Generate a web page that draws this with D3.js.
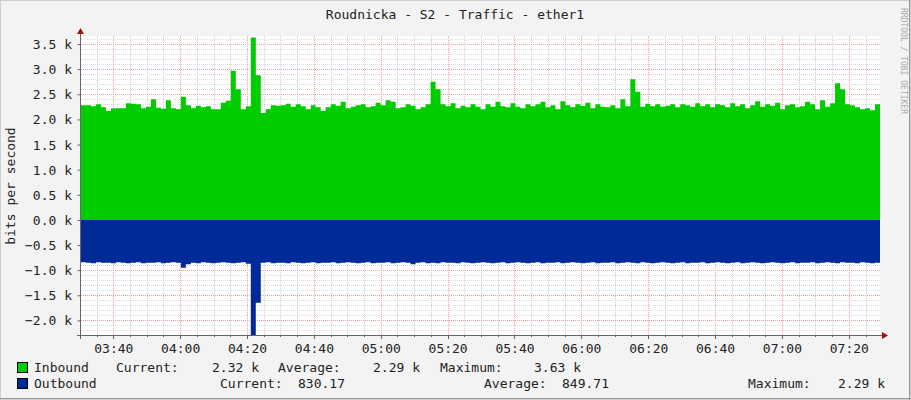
<!DOCTYPE html>
<html><head><meta charset="utf-8">
<script src="https://cdn.jsdelivr.net/npm/d3@7"></script>
<style>body{margin:0;background:#f3f3f3}svg{display:block}text{font-family:"DejaVu Sans Mono",monospace}</style>
</head><body><svg id="c" width="911" height="400"></svg>
<script>
const title = "Roudnicka - S2 - Traffic - ether1";
const startTime = "03:30:20", endTime = "07:29:20";
const yTicks = [-2.0,-1.5,-1.0,-0.5,0.0,0.5,1.0,1.5,2.0,2.5,3.0,3.5];
const inbound = [2.28,2.28,2.26,2.30,2.24,2.17,2.22,2.22,2.22,2.32,
2.31,2.30,2.22,2.25,2.40,2.23,2.21,2.38,2.22,2.20,
2.45,2.28,2.22,2.27,2.24,2.26,2.20,2.20,2.33,2.37,
2.97,2.60,2.20,2.26,3.63,2.88,2.13,2.20,2.28,2.27,
2.28,2.31,2.25,2.30,2.26,2.20,2.28,2.24,2.17,2.24,
2.30,2.27,2.35,2.22,2.25,2.28,2.30,2.24,2.26,2.33,
2.28,2.38,2.35,2.22,2.24,2.30,2.27,2.20,2.24,2.30,
2.75,2.60,2.30,2.26,2.32,2.22,2.27,2.24,2.30,2.25,
2.20,2.30,2.25,2.35,2.26,2.24,2.32,2.25,2.22,2.30,
2.26,2.30,2.35,2.24,2.28,2.20,2.36,2.28,2.24,2.30,
2.27,2.33,2.22,2.30,2.25,2.24,2.28,2.22,2.40,2.26,
2.80,2.55,2.25,2.31,2.26,2.30,2.25,2.27,2.30,2.24,
2.30,2.28,2.25,2.32,2.26,2.30,2.24,2.30,2.28,2.24,
2.32,2.26,2.30,2.22,2.28,2.36,2.25,2.30,2.27,2.33,
2.20,2.28,2.30,2.24,2.26,2.35,2.30,2.20,2.38,2.25,
2.32,2.72,2.60,2.30,2.28,2.24,2.20,2.22,2.18,2.30];
const outbound = [0.84,0.85,0.86,0.84,0.85,0.85,0.86,0.84,0.85,0.86,
0.85,0.84,0.86,0.85,0.85,0.84,0.86,0.85,0.84,0.85,
0.95,0.88,0.85,0.86,0.84,0.85,0.86,0.85,0.84,0.85,
0.86,0.85,0.84,0.87,2.29,1.65,0.85,0.84,0.86,0.85,
0.85,0.86,0.84,0.85,0.86,0.85,0.84,0.86,0.85,0.85,
0.84,0.86,0.85,0.84,0.85,0.86,0.85,0.84,0.86,0.85,
0.85,0.84,0.86,0.85,0.84,0.85,0.88,0.85,0.84,0.86,
0.85,0.86,0.84,0.85,0.85,0.86,0.84,0.85,0.86,0.85,
0.84,0.85,0.86,0.85,0.84,0.86,0.85,0.84,0.85,0.86,
0.85,0.84,0.86,0.85,0.85,0.84,0.86,0.85,0.84,0.85,
0.86,0.85,0.84,0.86,0.85,0.85,0.84,0.86,0.85,0.84,
0.85,0.86,0.84,0.85,0.86,0.85,0.84,0.85,0.86,0.85,
0.84,0.86,0.85,0.85,0.84,0.86,0.85,0.84,0.85,0.86,
0.85,0.84,0.86,0.85,0.84,0.85,0.86,0.85,0.84,0.85,
0.86,0.85,0.84,0.86,0.85,0.85,0.84,0.86,0.85,0.84,
0.85,0.86,0.84,0.85,0.85,0.86,0.84,0.85,0.86,0.85];
const legendRows = [
 {name:"Inbound", color:"#00cc00", parts:[["Current:",116],["2.32 k",212],["Average:",278],["2.29 k",373],["Maximum:",440],["3.63 k",534]]},
 {name:"Outbound", color:"#002a97", parts:[["Current:",220],["830.17",298],["Average:",484],["849.71",562],["Maximum:",748],["2.29 k",838]]}
];

const svg = d3.select("#c");
const L=81,R=880,T=36,B=335;
const pt = d3.timeParse("%H:%M:%S");
const t0=pt(startTime), t1=pt(endTime);
const x = d3.scaleTime().domain([t0,t1]).range([L,R]);
const y = d3.scaleLinear().domain([-2.29,3.66]).range([B,T]);
// frame
svg.append("rect").attr("x",0.5).attr("y",0.5).attr("width",910).attr("height",399).attr("fill","#f3f3f3").attr("stroke","#cfcfcf");
svg.append("line").attr("x1",0).attr("x2",911).attr("y1",398.5).attr("y2",398.5).attr("stroke","#999");
svg.append("line").attr("x1",909.5).attr("x2",909.5).attr("y1",0).attr("y2",400).attr("stroke","#999");
svg.append("rect").attr("x",L).attr("y",T).attr("width",R-L).attr("height",B-T).attr("fill","#fff");
const g = svg.append("g");
// minor grid
const minorT = d3.timeMinute.every(5).range(t0,t1);
const majorT = d3.timeMinute.every(20).range(t0,t1);
g.selectAll(".vm").data(minorT).join("line").attr("x1",d=>Math.round(x(d))+.5).attr("x2",d=>Math.round(x(d))+.5).attr("y1",T).attr("y2",B).attr("stroke","#ccc").attr("stroke-dasharray","1,1");
const minorY = d3.range(-22,37).map(v=>v/10);
g.selectAll(".hm").data(minorY).join("line").attr("x1",L).attr("x2",R).attr("y1",d=>Math.round(y(d))+.5).attr("y2",d=>Math.round(y(d))+.5).attr("stroke","#ddd").attr("stroke-dasharray","1,1");
g.selectAll(".vM").data(majorT).join("line").attr("x1",d=>Math.round(x(d))+.5).attr("x2",d=>Math.round(x(d))+.5).attr("y1",T).attr("y2",B).attr("stroke","#f0a0a0").attr("stroke-dasharray","1,1");
g.selectAll(".hM").data(yTicks).join("line").attr("x1",L).attr("x2",R).attr("y1",d=>Math.round(y(d))+.5).attr("y2",d=>Math.round(y(d))+.5).attr("stroke","#f0a0a0").attr("stroke-dasharray","1,1");
// areas
const step=(t1-t0)/inbound.length;
const tx=i=>new Date(+t0+i*step);
const pad=a=>a.concat([a[a.length-1]]);
const area = sign=>d3.area().curve(d3.curveStepAfter).x((d,i)=>x(tx(i))).y0(y(0)).y1(d=>y(sign*d));
svg.append("path").attr("d",area(1)(pad(inbound))).attr("fill","#00cc00");
svg.append("path").attr("d",area(-1)(pad(outbound))).attr("fill","#002a97");
// axes lines
svg.append("line").attr("x1",L-0.5).attr("x2",L-0.5).attr("y1",T-4).attr("y2",B+4).attr("stroke","#666");
svg.append("line").attr("x1",L-4).attr("x2",R+4).attr("y1",B+.5).attr("y2",B+.5).attr("stroke","#666");
svg.append("path").attr("d",`M${L-4},${T-2}L${L+3},${T-2}L${L-0.5},${T-8}Z`).attr("fill","#a01010");
svg.append("path").attr("d",`M${R+2},${B-3}L${R+2},${B+4}L${R+8},${B+.5}Z`).attr("fill","#a01010");
// y axis ticks labels
const ya=svg.append("g").attr("transform",`translate(${L},0)`).call(d3.axisLeft(y).tickValues(yTicks).tickSize(3).tickFormat(d=>d3.format(".1f")(d)+" k"));
ya.select(".domain").remove();
ya.selectAll("line").attr("stroke","#666").attr("transform","translate(-0.5,0)");
ya.selectAll("text").attr("font-size",13).attr("fill","#222").attr("font-family","DejaVu Sans Mono").attr("dx",-3).attr("dy","0.35em");
const xa=svg.append("g").attr("transform",`translate(0,${B})`).call(d3.axisBottom(x).tickValues(majorT.filter(d=>d.getMinutes()%20==0 && +d>+t0+60000)).tickSize(0).tickFormat(d3.timeFormat("%H:%M")));
xa.select(".domain").remove();
xa.selectAll("text").attr("font-size",13).attr("fill","#222").attr("font-family","DejaVu Sans Mono").attr("dy","1.15em");
svg.append("g").selectAll("line").data(minorT).join("line").attr("x1",d=>Math.round(x(d))+.5).attr("x2",d=>Math.round(x(d))+.5).attr("y1",B).attr("y2",d=>d.getMinutes()%20==0?B+4:B+2).attr("stroke","#666");
// title, labels
svg.append("text").attr("x",455).attr("y",19).attr("text-anchor","middle").attr("font-size",13).attr("fill","#222").text(title);
svg.append("text").attr("transform","translate(15,186) rotate(-90)").attr("text-anchor","middle").attr("font-size",13).attr("fill","#222").text("bits per second");
svg.append("text").attr("transform","translate(901,8) rotate(90)").attr("font-size",8).attr("fill","#aaa").text("RRDTOOL / TOBI OETIKER");
// legend
legendRows.forEach((r,k)=>{
  const yy=372+k*16;
  svg.append("rect").attr("x",17.5).attr("y",yy-9.5).attr("width",10).attr("height",10).attr("fill",r.color).attr("stroke","#000");
  svg.append("text").attr("x",34).attr("y",yy).attr("font-size",13).attr("fill","#222").text(r.name);
  r.parts.forEach(p=>svg.append("text").attr("x",p[1]).attr("y",yy).attr("font-size",13).attr("fill","#222").text(p[0]));
});
</script></body></html>
